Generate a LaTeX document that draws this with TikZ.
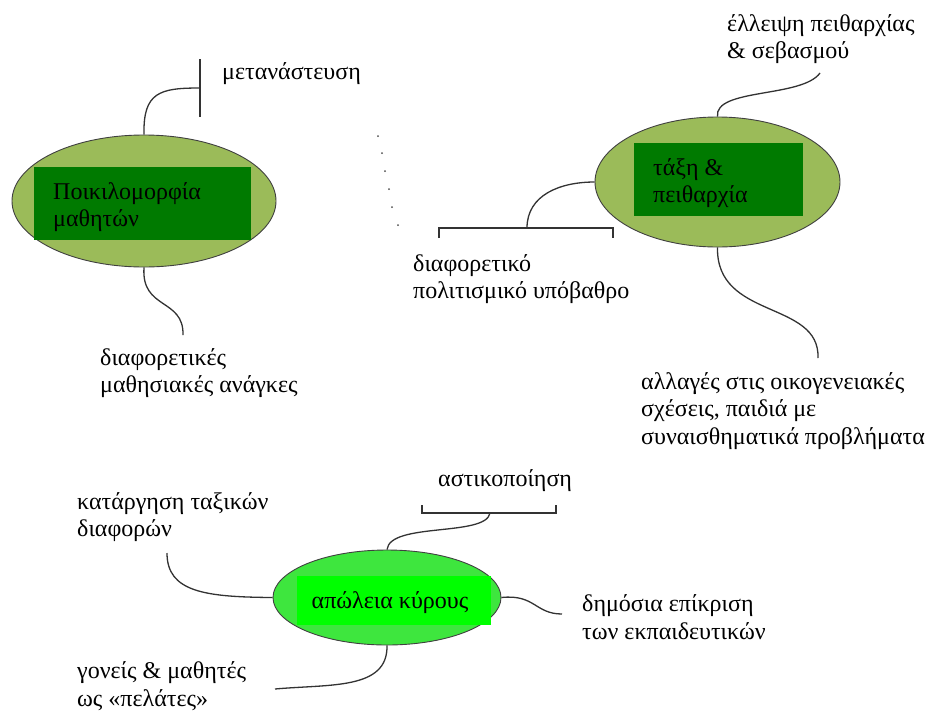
\documentclass[tikz,border=0pt]{standalone}
\usepackage{fontspec}
\setmainfont{Liberation Serif}
\usetikzlibrary{shapes.geometric}
\definecolor{olive}{HTML}{9BBB59}
\definecolor{dgreen}{HTML}{007A00}
\definecolor{lgreen}{HTML}{3EE63E}
\definecolor{lime}{HTML}{00FF00}
\tikzset{
  ell/.style={ellipse, draw=black!75, line width=0.9pt, inner sep=0pt},
  box/.style={rectangle, inner sep=0pt, draw=none},
  txt/.style={font=\fontsize{24}{27.5}\selectfont},
  lbl/.style={txt, align=left, inner sep=0pt},
  con/.style={draw=black!80, line width=1.3pt},
  bar/.style={draw=black!80, line width=1.2pt},
  dot/.style={fill=black!70}
}
\begin{document}
\begin{tikzpicture}[x=1pt,y=-1pt]
\useasboundingbox (0,0) rectangle (940,710);
% --- left cluster
\node[ell, fill=olive, minimum width=264pt, minimum height=132pt] (e1) at (144,201) {};
\node[box, fill=dgreen, minimum width=217pt, minimum height=73pt] (r1) at (142.5,203.5) {};
\node[lbl, anchor=west] (t1) at (53,207) {Ποικιλομορφία\\μαθητών};
\coordinate (b1t) at (200,59);
\coordinate (b1b) at (200,117);
\coordinate (b1m) at (200,88);
\draw[bar] (b1t) -- (b1b);
\draw[con] (e1.north) .. controls (143,92) and (160,88) .. (b1m);
\node[lbl, anchor=west] (l1) at (222,74) {μετανάστευση};
\coordinate (c1) at (183,335);
\draw[con] (e1.south) .. controls (141,310) and (184,298) .. (c1);
\node[lbl, anchor=west] (l2) at (100,373) {διαφορετικές\\μαθησιακές ανάγκες};
% dots
\foreach \p in {(378,136),(382,153),(385,171),(389,189),(392,207),(398,225)}
  \fill[dot] \p circle (1pt);
% --- right cluster
\node[ell, fill=olive, minimum width=245pt, minimum height=130pt] (e2) at (717.5,182) {};
\node[box, fill=dgreen, minimum width=169pt, minimum height=73pt] (r2) at (718.5,179.5) {};
\node[lbl, anchor=west] (t2) at (653,183) {τάξη \&\\πειθαρχία};
\coordinate (c2) at (820,73);
\draw[con] (e2.north) .. controls (714,88) and (802,98) .. (c2);
\node[lbl, anchor=west] (l3) at (727,39) {έλλειψη πειθαρχίας\\\& σεβασμού};
\coordinate (b2l) at (439,238);
\coordinate (b2r) at (613,238);
\coordinate (b2m) at (527,228);
\draw[bar] (b2l) -- (439,228) -- (613,228) -- (b2r);
\draw[con] (e2.west) .. controls (560,182) and (527,195) .. (b2m);
\node[lbl, anchor=west] (l4) at (413,279) {διαφορετικό\\πολιτισμικό υπόβαθρο};
\coordinate (c3) at (818,358);
\draw[con] (e2.south) .. controls (716,320) and (820,300) .. (c3);
\node[lbl, anchor=west] (l5) at (641,411) {αλλαγές στις οικογενειακές\\σχέσεις, παιδιά με\\συναισθηματικά προβλήματα};
% --- bottom cluster
\node[ell, fill=lgreen, minimum width=228pt, minimum height=95pt] (e3) at (387,597.5) {};
\node[box, fill=lime, minimum width=194pt, minimum height=49pt] (r3) at (394,600.5) {};
\node[txt, inner sep=0pt] (t3) at (390,603) {απώλεια κύρους};
\coordinate (b3l) at (422,505);
\coordinate (b3r) at (556,505);
\coordinate (b3m) at (490,513);
\draw[bar] (b3l) -- (422,513) -- (556,513) -- (b3r);
\draw[con] (e3.north) .. controls (390,522) and (486,537) .. (b3m);
\node[lbl, anchor=west] (l6) at (438,481) {αστικοποίηση};
\coordinate (c4) at (167,553);
\draw[con] (e3.west) .. controls (205,597) and (167,592) .. (c4);
\node[lbl, anchor=west] (l7) at (77,517) {κατάργηση ταξικών\\διαφορών};
\coordinate (c5) at (275,689);
\draw[con] (e3.south) .. controls (388,690) and (330,684) .. (c5);
\node[lbl, anchor=west] (l8) at (77,686) {γονείς \& μαθητές\\ως «πελάτες»};
\coordinate (c6) at (562,614);
\draw[con] (e3.east) .. controls (535,594) and (535,614) .. (c6);
\node[lbl, anchor=west] (l9) at (582,617) {δημόσια επίκριση\\των εκπαιδευτικών};
\end{tikzpicture}
\end{document}
